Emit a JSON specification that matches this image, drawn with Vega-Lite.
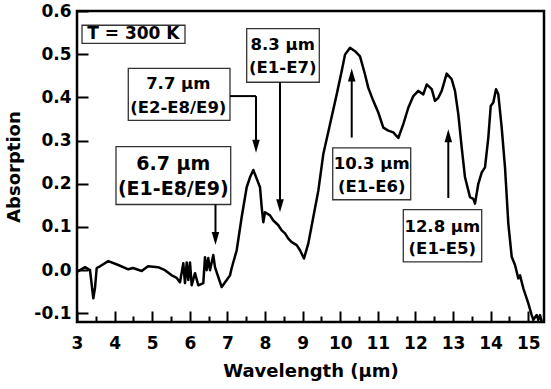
{
  "$schema": "https://vega.github.io/schema/vega-lite/v6.json",
  "width": 467,
  "height": 311,
  "autosize": "none",
  "padding": {"left": 77, "top": 11, "right": 7, "bottom": 67},
  "background": "white",
  "config": {
    "view": {"stroke": "black", "strokeWidth": 2.5},
    "font": "DejaVu Sans"
  },
  "datasets": {
    "curve": [
      {"x": 3.0, "y": -0.004}, {"x": 3.213, "y": 0.007}, {"x": 3.346, "y": 0.0}, {"x": 3.434, "y": -0.065},
      {"x": 3.479, "y": -0.041}, {"x": 3.524, "y": 0.005}, {"x": 3.612, "y": 0.009}, {"x": 3.832, "y": 0.021},
      {"x": 4.098, "y": 0.012}, {"x": 4.364, "y": 0.002}, {"x": 4.489, "y": 0.005}, {"x": 4.721, "y": -0.002},
      {"x": 4.888, "y": 0.009}, {"x": 5.154, "y": 0.007}, {"x": 5.34, "y": 0.0}, {"x": 5.519, "y": -0.012},
      {"x": 5.652, "y": -0.018}, {"x": 5.739, "y": -0.028}, {"x": 5.827, "y": 0.016}, {"x": 5.872, "y": -0.03},
      {"x": 5.918, "y": 0.018}, {"x": 5.96, "y": -0.023}, {"x": 6.005, "y": 0.018}, {"x": 6.051, "y": -0.035},
      {"x": 6.138, "y": -0.007}, {"x": 6.226, "y": -0.035}, {"x": 6.359, "y": -0.03}, {"x": 6.404, "y": 0.03},
      {"x": 6.449, "y": 0.0}, {"x": 6.492, "y": 0.028}, {"x": 6.537, "y": 0.0}, {"x": 6.625, "y": 0.035},
      {"x": 6.67, "y": 0.007}, {"x": 6.758, "y": -0.016}, {"x": 6.848, "y": -0.039}, {"x": 6.981, "y": -0.023},
      {"x": 7.069, "y": -0.012}, {"x": 7.114, "y": 0.005}, {"x": 7.247, "y": 0.046}, {"x": 7.38, "y": 0.123},
      {"x": 7.513, "y": 0.192}, {"x": 7.601, "y": 0.215}, {"x": 7.689, "y": 0.232}, {"x": 7.779, "y": 0.212},
      {"x": 7.867, "y": 0.192}, {"x": 7.912, "y": 0.146}, {"x": 7.955, "y": 0.111}, {"x": 8.0, "y": 0.134},
      {"x": 8.133, "y": 0.127}, {"x": 8.221, "y": 0.115}, {"x": 8.354, "y": 0.104}, {"x": 8.444, "y": 0.092},
      {"x": 8.532, "y": 0.085}, {"x": 8.62, "y": 0.073}, {"x": 8.71, "y": 0.065}, {"x": 8.843, "y": 0.058},
      {"x": 8.931, "y": 0.046}, {"x": 9.037, "y": 0.027}, {"x": 9.152, "y": 0.062}, {"x": 9.285, "y": 0.123},
      {"x": 9.418, "y": 0.184}, {"x": 9.551, "y": 0.269}, {"x": 9.729, "y": 0.338}, {"x": 9.907, "y": 0.407},
      {"x": 10.04, "y": 0.461}, {"x": 10.128, "y": 0.499}, {"x": 10.261, "y": 0.515}, {"x": 10.394, "y": 0.507},
      {"x": 10.527, "y": 0.495}, {"x": 10.66, "y": 0.453}, {"x": 10.747, "y": 0.422}, {"x": 10.88, "y": 0.392},
      {"x": 11.013, "y": 0.365}, {"x": 11.146, "y": 0.33}, {"x": 11.279, "y": 0.323}, {"x": 11.412, "y": 0.319},
      {"x": 11.545, "y": 0.306}, {"x": 11.678, "y": 0.338}, {"x": 11.811, "y": 0.376}, {"x": 11.944, "y": 0.403},
      {"x": 12.077, "y": 0.415}, {"x": 12.21, "y": 0.407}, {"x": 12.301, "y": 0.43}, {"x": 12.434, "y": 0.419},
      {"x": 12.521, "y": 0.392}, {"x": 12.609, "y": 0.399}, {"x": 12.699, "y": 0.415}, {"x": 12.832, "y": 0.455},
      {"x": 12.965, "y": 0.442}, {"x": 13.053, "y": 0.415}, {"x": 13.141, "y": 0.361}, {"x": 13.231, "y": 0.284},
      {"x": 13.319, "y": 0.215}, {"x": 13.452, "y": 0.169}, {"x": 13.54, "y": 0.165}, {"x": 13.585, "y": 0.154},
      {"x": 13.673, "y": 0.2}, {"x": 13.763, "y": 0.226}, {"x": 13.851, "y": 0.238}, {"x": 13.939, "y": 0.307},
      {"x": 14.003, "y": 0.38}, {"x": 14.072, "y": 0.388}, {"x": 14.144, "y": 0.419}, {"x": 14.205, "y": 0.407},
      {"x": 14.295, "y": 0.33}, {"x": 14.383, "y": 0.238}, {"x": 14.471, "y": 0.108}, {"x": 14.561, "y": 0.031},
      {"x": 14.649, "y": 0.012}, {"x": 14.737, "y": -0.019}, {"x": 14.782, "y": -0.012}, {"x": 14.87, "y": -0.042},
      {"x": 15.003, "y": -0.077}, {"x": 15.093, "y": -0.104}, {"x": 15.136, "y": -0.115}, {"x": 15.226, "y": -0.104},
      {"x": 15.269, "y": -0.115}, {"x": 15.314, "y": -0.104}, {"x": 15.359, "y": -0.119}
    ],
    "boxes": [
      {"x": 3.133, "x2": 5.872, "y": 0.567, "y2": 0.525},
      {"x": 7.513, "x2": 9.444, "y": 0.559, "y2": 0.435},
      {"x": 4.364, "x2": 7.069, "y": 0.467, "y2": 0.347},
      {"x": 4.037, "x2": 7.088, "y": 0.286, "y2": 0.152},
      {"x": 9.801, "x2": 11.875, "y": 0.283, "y2": 0.163},
      {"x": 11.678, "x2": 13.763, "y": 0.14, "y2": 0.019}
    ],
    "labels": [
      {"x": 8.471, "y": 0.521, "t": "8.3 µm"},
      {"x": 8.471, "y": 0.467, "t": "(E1-E7)"},
      {"x": 5.694, "y": 0.43, "t": "7.7 µm"},
      {"x": 5.694, "y": 0.376, "t": "(E2-E8/E9)"},
      {"x": 10.838, "y": 0.246, "t": "10.3 µm"},
      {"x": 10.838, "y": 0.192, "t": "(E1-E6)"},
      {"x": 12.715, "y": 0.101, "t": "12.8 µm"},
      {"x": 12.715, "y": 0.05, "t": "(E1-E5)"}
    ],
    "biglabels": [
      {"x": 5.561, "y": 0.246, "t": "6.7 µm"},
      {"x": 5.561, "y": 0.188, "t": "(E1-E8/E9)"}
    ],
    "templabel": [
      {"x": 4.5, "y": 0.546, "t": "T = 300 K"}
    ],
    "arrows": [
      {"x": 8.399, "x2": 8.399, "y": 0.435, "y2": 0.146},
      {"x": 7.069, "x2": 7.761, "y": 0.403, "y2": 0.403},
      {"x": 7.761, "x2": 7.761, "y": 0.403, "y2": 0.284},
      {"x": 6.683, "x2": 6.683, "y": 0.152, "y2": 0.07},
      {"x": 10.306, "x2": 10.306, "y": 0.307, "y2": 0.455},
      {"x": 12.875, "x2": 12.875, "y": 0.167, "y2": 0.314}
    ],
    "heads": [
      {"x": 8.399, "y": 0.134, "dir": "down"},
      {"x": 7.761, "y": 0.272, "dir": "down"},
      {"x": 6.683, "y": 0.058, "dir": "down"},
      {"x": 10.306, "y": 0.467, "dir": "up"},
      {"x": 12.875, "y": 0.326, "dir": "up"}
    ]
  },
  "layer": [
    {
      "data": {"name": "curve"},
      "mark": {"type": "line", "color": "black", "strokeWidth": 2.5, "clip": true, "strokeJoin": "round"},
      "encoding": {
        "x": {
          "field": "x", "type": "quantitative",
          "scale": {"domain": [3, 15.42], "nice": false, "zero": false},
          "axis": {
            "title": "Wavelength (µm)",
            "values": [3, 3.5, 4, 4.5, 5, 5.5, 6, 6.5, 7, 7.5, 8, 8.5, 9, 9.5, 10, 10.5, 11, 11.5, 12, 12.5, 13, 13.5, 14, 14.5, 15],
            "tickCount": 40,
            "labelExpr": "datum.value % 1 === 0 ? format(datum.value, 'd') : ''",
            "labelOverlap": false,
            "labelFlush": false,
            "tickSize": {"condition": {"test": "datum.value % 1 === 0", "value": -11}, "value": -6},
            "tickWidth": 2,
            "tickColor": "black",
            "domain": false,
            "grid": false,
            "labelFont": "DejaVu Sans",
            "labelFontSize": 17,
            "labelFontWeight": "bold",
            "labelColor": "black",
            "labelPadding": 24,
            "titleFont": "DejaVu Sans",
            "titleFontSize": 18,
            "titleFontWeight": "bold",
            "titleColor": "black",
            "titlePadding": 6
          }
        },
        "y": {
          "field": "y", "type": "quantitative",
          "scale": {"domain": [-0.12, 0.6], "nice": false, "zero": false},
          "axis": {
            "title": "Absorption",
            "values": [-0.1, 0, 0.1, 0.2, 0.3, 0.4, 0.5, 0.6],
            "tickCount": 20,
            "format": ".1f",
            "labelExpr": "replace(datum.label, '−', '-')",
            "labelOverlap": false,
            "labelFlush": false,
            "tickSize": -11,
            "tickWidth": 2,
            "tickColor": "black",
            "domain": false,
            "grid": false,
            "labelFont": "DejaVu Sans",
            "labelFontSize": 17,
            "labelFontWeight": "bold",
            "labelColor": "black",
            "labelPadding": 17,
            "titleFont": "DejaVu Sans",
            "titleFontSize": 18,
            "titleFontWeight": "bold",
            "titleColor": "black",
            "titlePadding": 10
          }
        }
      }
    },
    {
      "data": {"name": "boxes"},
      "mark": {"type": "rect", "fill": "white", "stroke": "#333333", "strokeWidth": 1.3},
      "encoding": {
        "x": {"field": "x", "type": "quantitative"},
        "x2": {"field": "x2"},
        "y": {"field": "y", "type": "quantitative"},
        "y2": {"field": "y2"}
      }
    },
    {
      "data": {"name": "arrows"},
      "mark": {"type": "rule", "color": "black", "strokeWidth": 2},
      "encoding": {
        "x": {"field": "x", "type": "quantitative"},
        "x2": {"field": "x2"},
        "y": {"field": "y", "type": "quantitative"},
        "y2": {"field": "y2"}
      }
    },
    {
      "data": {"name": "heads"},
      "mark": {"type": "point", "filled": true, "color": "black", "opacity": 1, "size": 169, "strokeWidth": 0},
      "encoding": {
        "x": {"field": "x", "type": "quantitative"},
        "y": {"field": "y", "type": "quantitative"},
        "shape": {
          "field": "dir", "type": "nominal", "legend": null,
          "scale": {"domain": ["down", "up"], "range": ["M-0.58,-2L0.58,-2L0,0Z", "M-0.58,2L0.58,2L0,0Z"]}
        }
      }
    },
    {
      "data": {"name": "labels"},
      "mark": {"type": "text", "font": "DejaVu Sans", "fontSize": 16.5, "fontWeight": "bold", "color": "black", "align": "center", "baseline": "middle"},
      "encoding": {
        "x": {"field": "x", "type": "quantitative"},
        "y": {"field": "y", "type": "quantitative"},
        "text": {"field": "t"}
      }
    },
    {
      "data": {"name": "biglabels"},
      "mark": {"type": "text", "font": "DejaVu Sans", "fontSize": 19, "fontWeight": "bold", "color": "black", "align": "center", "baseline": "middle"},
      "encoding": {
        "x": {"field": "x", "type": "quantitative"},
        "y": {"field": "y", "type": "quantitative"},
        "text": {"field": "t"}
      }
    },
    {
      "data": {"name": "templabel"},
      "mark": {"type": "text", "font": "DejaVu Sans", "fontSize": 17, "fontWeight": "bold", "color": "black", "align": "center", "baseline": "middle"},
      "encoding": {
        "x": {"field": "x", "type": "quantitative"},
        "y": {"field": "y", "type": "quantitative"},
        "text": {"field": "t"}
      }
    }
  ]
}
